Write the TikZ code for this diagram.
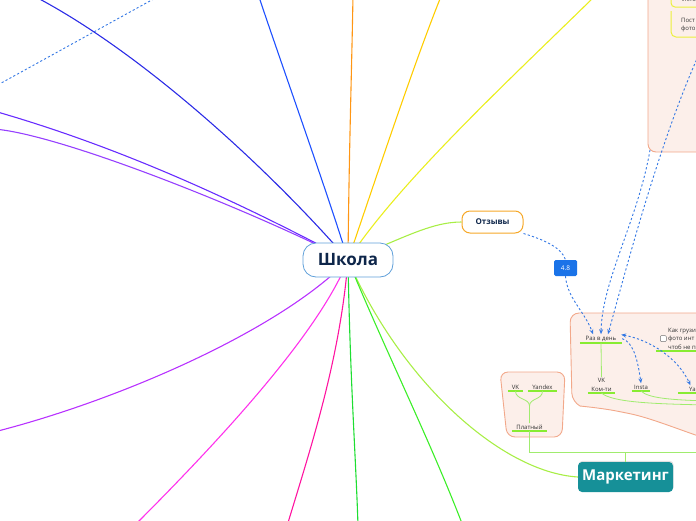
\documentclass[tikz,border=0pt]{standalone}
\usepackage{fontspec}
\setmainfont{Open Sans}
\usetikzlibrary{arrows.meta,positioning,calc,backgrounds,shadows}
\definecolor{rootblue}{RGB}{96,160,218}
\definecolor{rootink}{RGB}{14,38,74}
\definecolor{topicorange}{RGB}{246,168,40}
\definecolor{markteal}{RGB}{22,144,152}
\definecolor{badgeblue}{RGB}{26,115,232}
\definecolor{relblue}{RGB}{52,120,228}
\definecolor{grouppink}{RGB}{252,239,234}
\definecolor{groupedge}{RGB}{242,168,138}
\definecolor{bargreen}{RGB}{136,236,50}
\definecolor{twiggreen}{RGB}{160,236,110}
\definecolor{leafink}{RGB}{50,50,50}
\definecolor{boxyellow}{RGB}{236,240,60}
% branch colours
\definecolor{brblue}{RGB}{30,80,255}
\definecolor{brindigo}{RGB}{44,44,230}
\definecolor{brviolet}{RGB}{104,44,255}
\definecolor{brlilac}{RGB}{150,64,255}
\definecolor{brorange}{RGB}{255,150,20}
\definecolor{brgold}{RGB}{255,204,0}
\definecolor{bryellow}{RGB}{234,238,30}
\definecolor{brlime}{RGB}{168,238,70}
\definecolor{brgreen}{RGB}{60,238,40}
\definecolor{brgreentwo}{RGB}{30,222,50}
\definecolor{brpink}{RGB}{255,20,160}
\definecolor{brmagenta}{RGB}{255,50,236}
\definecolor{brpurple}{RGB}{184,50,255}
\tikzset{
  root/.style    = {rectangle, rounded corners=13pt, draw=rootblue, fill=white,
                    line width=0.8pt, minimum width=90pt, minimum height=34pt,
                    font=\fontsize{17}{20}\selectfont\bfseries, text=rootink},
  topic/.style   = {rectangle, rounded corners=8pt, draw=topicorange, fill=white,
                    line width=1pt, minimum width=61pt, minimum height=22pt,
                    font=\fontsize{8}{10}\selectfont\bfseries, text=rootink},
  mainbox/.style = {rectangle, rounded corners=4pt, fill=markteal, text=white,
                    minimum width=95pt, minimum height=30pt,
                    font=\fontsize{15}{18}\selectfont\bfseries,
                    drop shadow={opacity=0.25, shadow xshift=0.6pt, shadow yshift=1.2pt}},
  badge/.style   = {rectangle, rounded corners=1.5pt, fill=badgeblue, text=white,
                    minimum width=23pt, minimum height=16pt,
                    font=\fontsize{6.5}{8}\selectfont},
  leaf/.style    = {font=\fontsize{6}{8.5}\selectfont, text=leafink, inner xsep=0pt,
                    inner ysep=1.5pt, align=center},
  check/.style   = {rectangle, rounded corners=1pt, draw=leafink!70, fill=white,
                    line width=0.5pt, minimum size=6pt, inner sep=0pt},
  bar/.style     = {draw=bargreen, line width=1.8pt},
  twig/.style    = {draw=twiggreen, line width=0.8pt},
  branch/.style  = {line width=1.1pt},
  group/.style   = {fill=grouppink, draw=groupedge, line width=0.9pt},
  rel/.style     = {draw=relblue, line width=0.9pt, dash pattern=on 2.2pt off 2.2pt},
  relarr/.style  = {rel, -{Stealth[length=5pt, width=4pt]}},
}
\newcommand{\barunder}[1]{\draw[bar] (#1.south west) -- (#1.south east);}

\begin{document}
\begin{tikzpicture}[x=1pt, y=-1pt]
\useasboundingbox (0,0) rectangle (696,520);
\clip (0,0) rectangle (696,520);

% central topic and main topics
\node[root] (school) at (348,260) {Школа};
\node[topic] (reviews) at (492.5,222) {Отзывы};
\node[badge] (rating) at (565.5,268) {4.8};
\node[mainbox] (mark) at (625.5,477) {Маркетинг};

% free ends of the branches (outside the view)
\coordinate (eBlue)    at (258,-6);
\coordinate (eIndigo)  at (30,-6);
\coordinate (eViolet)  at (-6,111);
\coordinate (eLilac)   at (-6,129);
\coordinate (eOrange)  at (353,-6);
\coordinate (eGold)    at (442,-6);
\coordinate (eYellow)  at (597,-6);
\coordinate (eGreen)   at (463,526);
\coordinate (eGreenB)  at (358,526);
\coordinate (ePink)    at (287,526);
\coordinate (eMagenta) at (134,526);
\coordinate (ePurple)  at (-6,432);

\begin{scope}[on background layer]
  \draw[branch, brblue]     (school.center) .. controls (330,200) and (280,60) .. (eBlue);
  \draw[branch, brindigo]   (school.center) .. controls (270,170) and (140,50) .. (eIndigo);
  \draw[branch, brviolet]   (school.center) .. controls (250,208) and (130,150) .. (eViolet);
  \draw[branch, brlilac]    (school.center) .. controls (250,210) and (60,134) .. (eLilac);
  \draw[branch, brorange]   (school.center) .. controls (349,150) and (352,60) .. (eOrange);
  \draw[branch, brgold]     (school.center) .. controls (372,190) and (415,60) .. (eGold);
  \draw[branch, bryellow]   (school.center) .. controls (400,180) and (520,70) .. (eYellow);
  \draw[branch, brlime]     (school.center) .. controls (400,240) and (430,222) .. (reviews.west);
  \draw[branch, brlime]     (school.center) .. controls (400,380) and (500,472) .. (mark.west);
  \draw[branch, brgreen]    (school.center) .. controls (385,350) and (430,440) .. (eGreen);
  \draw[branch, brgreentwo] (school.center) .. controls (350,380) and (356,460) .. (eGreenB);
  \draw[branch, brpink]     (school.center) .. controls (340,360) and (310,450) .. (ePink);
  \draw[branch, brmagenta]  (school.center) .. controls (320,330) and (230,430) .. (eMagenta);
  \draw[branch, brpurple]   (school.center) .. controls (280,330) and (120,400) .. (ePurple);

  % groups
  \path[group, rounded corners=8pt] (710,-10) -- (648,-10) -- (648,152) -- (710,152) -- cycle;
  \path[group, rounded corners=9pt] (710,313) -- (570,313) -- (572,402)
     .. controls (580,406) and (600,408) .. (622,412)
     .. controls (650,418) and (675,428) .. (710,440) -- cycle;
  \path[group, rounded corners=8pt] (500,372) -- (565,372) -- (562,437) -- (507,437) -- cycle;
  \draw[boxyellow, line width=1pt, rounded corners=4pt] (671,-10) -- (671,7) -- (710,7);
  \draw[boxyellow, line width=1pt, rounded corners=5pt] (671,11) -- (671,37) -- (710,37);
\end{scope}

% leaves in the top group
\node[leaf, anchor=west] (story) at (682,0) {Истор};
\node[leaf, anchor=west, align=left] (post) at (681,25) {Пост\\фото};

% leaves in the lower group
\node[leaf, minimum width=42pt, anchor=south] (raz) at (601,343) {Раз в день};
\node[leaf, minimum width=27pt, anchor=south] (vkcom) at (601.5,393) {VK\\Ком-ти};
\node[leaf, minimum width=18pt, anchor=south] (insta) at (641,391) {Insta};
\node[leaf, anchor=south west] (ya) at (689,393) {Ya};
\node[leaf, anchor=south west, align=left] (howto) at (668,351) {Как грузи\\фото инт\\чтоб не п};
\node[check, left=1.5pt of howto] (tick) {};
\barunder{raz}
\barunder{vkcom}
\barunder{insta}
\draw[bar] ($(ya.south west)+(-11,0)$) -- ++(30,0);
\draw[bar] ($(howto.south west)+(-12,0)$) -- ++(45,0);

% paid group
\node[leaf, minimum width=15pt, anchor=south] (vk) at (515.5,391) {VK};
\node[leaf, minimum width=29pt, anchor=south] (yandex) at (542.5,391) {Yandex};
\node[leaf, minimum width=35pt, anchor=south] (paid) at (529.5,431) {Платный};
\barunder{vk}
\barunder{yandex}
\barunder{paid}

% tree lines
\coordinate (fork) at (529.5,406);
\coordinate (hub) at (625.5,452);
\coordinate (hubR) at (710,452);
\coordinate (outA) at (710,405);
\coordinate (outB) at (710,401);
\draw[twig] (raz.south) -- (vkcom.north);
\draw[twig] (vk.south) .. controls (515.5,400) and (529.5,398) .. (fork) -- (paid.north);
\draw[twig] (yandex.south) .. controls (542.5,400) and (529.5,398) .. (fork);
\draw[twig] (paid.south) |- (hub) -- (mark.north);
\draw[twig] (hub) -- (hubR);
\draw[twig] (vkcom.south) .. controls (612,402) and (650,404) .. (outA);
\draw[twig] (insta.south) .. controls (648,398) and (670,400) .. (outB);

% relations
\coordinate (rTop) at (700,52);
\coordinate (rCorner) at (650,150);
\coordinate (rLeftA) at (-6,87);
\coordinate (rLeftB) at (159,-4);
\draw[rel] (rLeftA) -- (rLeftB);
\draw[rel] (reviews.south east) .. controls (545,240) and (562,248) .. (rating.north);
\draw[relarr] (rating.south) .. controls (567,298) and (585,312) .. ($(raz.north)+(-8,0)$);
\draw[relarr] (rCorner) .. controls (638,220) and (602,280) .. ($(raz.north)+(0,0)$);
\draw[relarr] (rTop) .. controls (660,140) and (628,262) .. ($(raz.north)+(7,0)$);
\draw[relarr] (raz.east) .. controls (632,342) and (637,355) .. (insta.north);
\draw[rel, {Stealth[length=5pt, width=4pt]}-{Stealth[length=5pt, width=4pt]}]
  ($(raz.east)+(-1,-4)$) .. controls (650,340) and (678,358) .. ($(ya.north)+(-2,0)$);
\end{tikzpicture}
\end{document}
